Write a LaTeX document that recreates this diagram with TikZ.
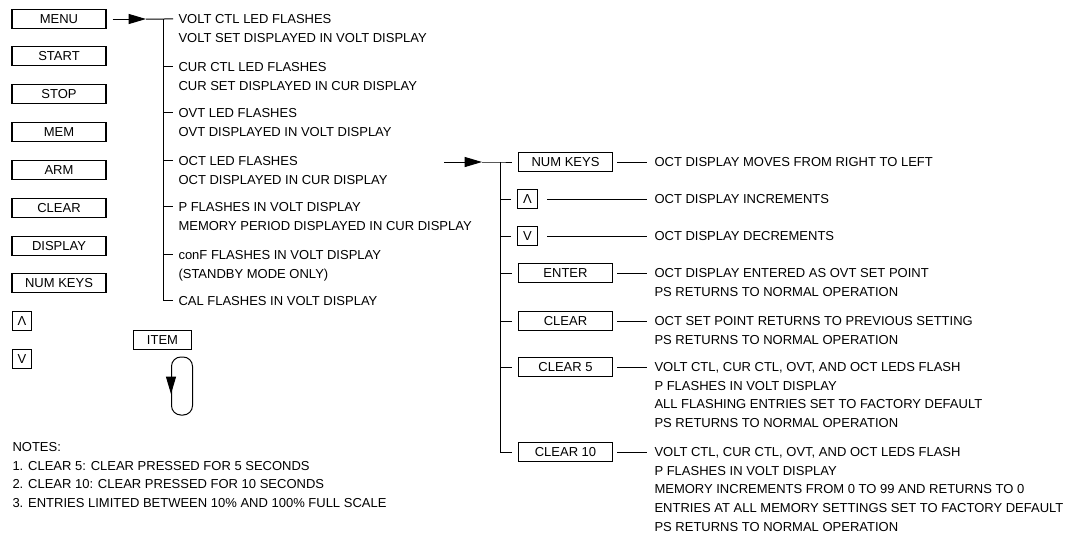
\documentclass[tikz,border=0pt]{standalone}
\usepackage{fontspec}
\setmainfont{Liberation Sans}
\usetikzlibrary{arrows.meta}
\usetikzlibrary{positioning}
\usetikzlibrary{calc}
\newcommand{\txtrows}[1]{\begin{tabular}[t]{@{}l@{}}#1\end{tabular}}

\begin{document}
\begin{tikzpicture}[x=0.75pt, y=-0.75pt, line width=0.75pt,
            every node/.style={inner sep=0pt,
            font=\fontsize{9.75}{14}\selectfont},
            key/.style={draw, line width=0.8pt, minimum width=70.5pt, minimum height=13.8pt},
            smallkey/.style={draw, line width=0.8pt, minimum width=14.5pt, minimum height=14.5pt},
            txt/.style={anchor=base west},
            >={Triangle[length=13pt, width=7.5pt]}]
            \useasboundingbox (0,0) rectangle (1073,533);
            % keys on the left
            \node[key] (menu) at (59,19) {MENU};
            \node[key] (start) at (59,56) {START};
            \node[key] (stop) at (59,94) {STOP};
            \node[key] (mem) at (59,132) {MEM};
            \node[key] (arm) at (59,170) {ARM};
            \node[key] (clear) at (59,208) {CLEAR};
            \node[key] (display) at (59,246) {DISPLAY};
            \node[key] (numkeys) at (59,283) {NUM KEYS};
            \node[smallkey] (up) at (22,321) {Λ};
            \node[smallkey] (down) at (22,359) {V};
            \node[key, minimum width=44pt] (item) at (162.5,340) {ITEM};
            \node[draw, rounded corners=7pt, minimum width=15.75pt, minimum height=43.5pt] (itemloop) at (182,386) {};
            \draw[->] ([yshift=10pt]itemloop.west) -- ([yshift=-6pt]itemloop.west);
            % menu branches
            \coordinate (menutip) at (146,19);
            \coordinate (lbar) at (163,19);
            \node[txt] (voltctl) at (178,23.5) {\txtrows{VOLT CTL LED FLASHES\\VOLT SET DISPLAYED IN VOLT DISPLAY}};
            \node[txt] (curctl) at (178,71.5) {\txtrows{CUR CTL LED FLASHES\\CUR SET DISPLAYED IN CUR DISPLAY}};
            \node[txt] (ovtled) at (178,117.5) {\txtrows{OVT LED FLASHES\\OVT DISPLAYED IN VOLT DISPLAY}};
            \node[txt] (octled) at (178,165.5) {\txtrows{OCT LED FLASHES\\OCT DISPLAYED IN CUR DISPLAY}};
            \node[txt] (pflash) at (178,211.5) {\txtrows{P FLASHES IN VOLT DISPLAY\\MEMORY PERIOD DISPLAYED IN CUR DISPLAY}};
            \node[txt] (conf) at (178,259.5) {\txtrows{conF FLASHES IN VOLT DISPLAY\\(STANDBY MODE ONLY)}};
            \node[txt] (calfl) at (178,305.5) {CAL FLASHES IN VOLT DISPLAY};
            \draw[->] ([xshift=4.5pt]menu.east) -- (menutip);
            \draw (menutip) -- (lbar) -- ([shift={(-3.75pt,3.4pt)}]voltctl.base west);
            \draw (lbar) -- ([shift={(-11.25pt,3.4pt)}]calfl.base west) -- ([shift={(-3.75pt,3.4pt)}]calfl.base west);
            \draw ([shift={(-11.25pt,3.4pt)}]curctl.base west) -- ++(7.5pt,0pt);
            \draw ([shift={(-11.25pt,3.4pt)}]ovtled.base west) -- ++(7.5pt,0pt);
            \draw ([shift={(-11.25pt,3.4pt)}]octled.base west) -- ++(7.5pt,0pt);
            \draw ([shift={(-11.25pt,3.4pt)}]pflash.base west) -- ++(7.5pt,0pt);
            \draw ([shift={(-11.25pt,3.4pt)}]conf.base west) -- ++(7.5pt,0pt);
            % OCT keys
            \coordinate (octarrow) at (444,162);
            \coordinate (octtip) at (482,162);
            \coordinate (rbar) at (500,162);
            \node[key] (rnumkeys) at (565.5,162) {NUM KEYS};
            \node[smallkey] (rup) at (527.5,199) {Λ};
            \node[smallkey] (rdown) at (527.5,236) {V};
            \node[key] (renter) at (565.5,273) {ENTER};
            \node[key] (rclear) at (565.5,321) {CLEAR};
            \node[key] (rclearfive) at (565.5,367) {CLEAR 5};
            \node[key] (rclearten) at (565.5,452) {CLEAR 10};
            \node[txt] (movesleft) at (654,166.5) {OCT DISPLAY MOVES FROM RIGHT TO LEFT};
            \node[txt] (incr) at (654,203.5) {OCT DISPLAY INCREMENTS};
            \node[txt] (decr) at (654,240.5) {OCT DISPLAY DECREMENTS};
            \node[txt] (entered) at (654,277.5) {\txtrows{OCT DISPLAY ENTERED AS OVT SET POINT\\PS RETURNS TO NORMAL OPERATION}};
            \node[txt] (previous) at (654,325.5) {\txtrows{OCT SET POINT RETURNS TO PREVIOUS SETTING\\PS RETURNS TO NORMAL OPERATION}};
            \node[txt] (resetfive) at (654,371.5) {\txtrows{VOLT CTL, CUR CTL, OVT, AND OCT LEDS FLASH\\P FLASHES IN VOLT DISPLAY\\ALL FLASHING ENTRIES SET TO FACTORY DEFAULT\\PS RETURNS TO NORMAL OPERATION}};
            \node[txt] (resetten) at (654,456.5) {\txtrows{VOLT CTL, CUR CTL, OVT, AND OCT LEDS FLASH\\P FLASHES IN VOLT DISPLAY\\MEMORY INCREMENTS FROM 0 TO 99 AND RETURNS TO 0\\ENTRIES AT ALL MEMORY SETTINGS SET TO FACTORY DEFAULT\\PS RETURNS TO NORMAL OPERATION}};
            \draw[->] (octarrow) -- (octtip);
            \draw (octtip) -- (rbar) -- ([xshift=-4.5pt]rnumkeys.west);
            \draw (rbar) -- (rbar |- rclearten.west) -- ([xshift=-4.5pt]rclearten.west);
            \draw (rbar |- rup.west) -- ([xshift=-4.5pt]rup.west);
            \draw (rbar |- rdown.west) -- ([xshift=-4.5pt]rdown.west);
            \draw (rbar |- renter.west) -- ([xshift=-4.5pt]renter.west);
            \draw (rbar |- rclear.west) -- ([xshift=-4.5pt]rclear.west);
            \draw (rbar |- rclearfive.west) -- ([xshift=-4.5pt]rclearfive.west);
            \draw ([xshift=3pt]rnumkeys.east) -- ([xshift=-5.25pt]movesleft.base west |- rnumkeys.east);
            \draw ([xshift=7pt]rup.east) -- ([xshift=-5.25pt]incr.base west |- rup.east);
            \draw ([xshift=7pt]rdown.east) -- ([xshift=-5.25pt]decr.base west |- rdown.east);
            \draw ([xshift=3pt]renter.east) -- ([xshift=-5.25pt]entered.base west |- renter.east);
            \draw ([xshift=3pt]rclear.east) -- ([xshift=-5.25pt]previous.base west |- rclear.east);
            \draw ([xshift=3pt]rclearfive.east) -- ([xshift=-5.25pt]resetfive.base west |- rclearfive.east);
            \draw ([xshift=3pt]rclearten.east) -- ([xshift=-5.25pt]resetten.base west |- rclearten.east);
            % notes
            \node[txt] (notes) at (12,451.5) {\txtrows{NOTES:\\1. CLEAR 5: CLEAR PRESSED FOR 5 SECONDS\\2. CLEAR 10: CLEAR PRESSED FOR 10 SECONDS\\3. ENTRIES LIMITED BETWEEN 10\% AND 100\% FULL SCALE}};
        \end{tikzpicture}
\end{document}
